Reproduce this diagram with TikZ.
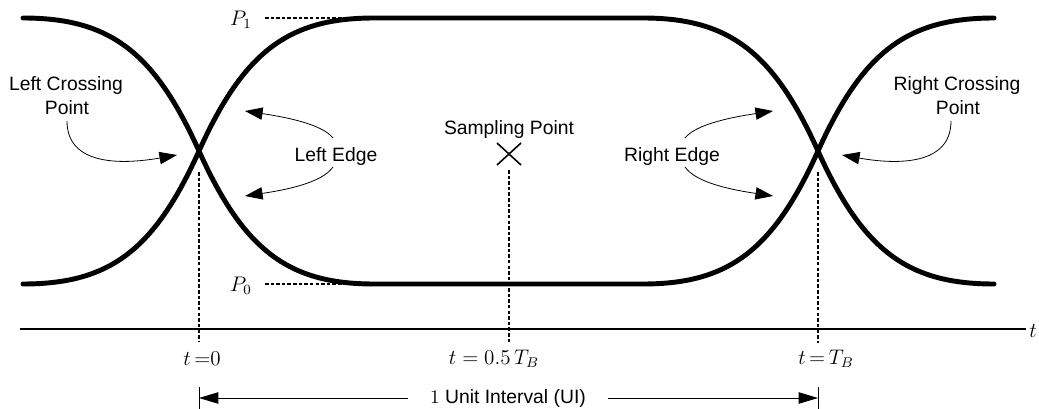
\documentclass[tikz,border=0pt]{standalone}
\usepackage{fontspec}
\setmainfont{Liberation Sans}
\usetikzlibrary{arrows.meta}
\tikzset{
  eye/.style={line width=2.8pt, line cap=round},
  guide/.style={line width=0.9pt, dash pattern=on 2pt off 1.2pt},
  axisline/.style={line width=1.1pt},
  callout/.style={line width=0.45pt, -{Triangle[length=10pt,width=7pt]}},
  uiarrow/.style={line width=0.5pt, -{Triangle[length=11pt,width=6.5pt]}},
  lbl/.style={font=\fontsize{11}{13}\selectfont, inner sep=0pt},
  mlbl/.style={font=\fontsize{11.5}{13}\selectfont, inner sep=0pt}
}
\begin{document}
\begin{tikzpicture}[x=0.02cm,y=-0.02cm]
\useasboundingbox (0,0) rectangle (1039,409);
% key points
\coordinate (TL) at (23,18);
\coordinate (BL) at (23,284);
\coordinate (XL) at (199,151);
\coordinate (TR) at (994,18);
\coordinate (BR) at (994,284);
\coordinate (XR) at (818,151);
\coordinate (T1) at (374,18);
\coordinate (T2) at (643,18);
\coordinate (B1) at (374,284);
\coordinate (B2) at (643,284);
% eye traces
\draw[eye] (TL) .. controls (109,18) and (154,51) .. (XL)
  .. controls (244,251) and (289,284) .. (B1) -- (B2)
  .. controls (728,284) and (773,251) .. (XR)
  .. controls (863,51) and (908,18) .. (TR);
\draw[eye] (BL) .. controls (109,284) and (154,251) .. (XL)
  .. controls (244,51) and (289,18) .. (T1) -- (T2)
  .. controls (728,18) and (773,51) .. (XR)
  .. controls (863,251) and (908,284) .. (BR);
% levels
\node[mlbl] (p1) at (241,20) {$P_1$};
\node[mlbl] (p0) at (241,286) {$P_0$};
\coordinate (p1s) at (265,18);
\coordinate (p0s) at (265,284);
\coordinate (p1e) at (345,18);
\coordinate (p0e) at (345,284);
\draw[guide] (p1s) -- (p1e);
\draw[guide] (p0s) -- (p0e);
% time axis
\coordinate (A0) at (20,329);
\coordinate (A1) at (1026,329);
\draw[axisline] (A0) -- (A1);
\node[mlbl, anchor=west] (tax) at (1029,331) {$t$};
% vertical guides
\coordinate (vl0) at (199,172);
\coordinate (vl1) at (199,342);
\coordinate (vm0) at (509,170);
\coordinate (vm1) at (509,343);
\coordinate (vr0) at (818,172);
\coordinate (vr1) at (818,343);
\draw[guide] (vl0) -- (vl1);
\draw[guide] (vm0) -- (vm1);
\draw[guide] (vr0) -- (vr1);
% time labels
\node[mlbl] (t0) at (202,359) {$t\,{=}0$};
\node[mlbl] (th) at (494,359) {$t = 0.5\,T_B$};
\node[mlbl] (tb) at (826,359) {$t\,{=}\,T_B$};
% sampling point
\node[lbl] (sp) at (509,130) {Sampling Point};
\coordinate (sx) at (509,154);
\draw[line width=0.9pt] ([shift={(-12,-11)}]sx) -- ([shift={(12,11)}]sx);
\draw[line width=0.9pt] ([shift={(-12,11)}]sx) -- ([shift={(12,-11)}]sx);
% left crossing
\node[lbl] (lc1) at (66,86) {Left Crossing};
\node[lbl] (lc2) at (67,108) {Point};
\coordinate (lcs) at (67,121);
\coordinate (lce) at (177,155);
\draw[callout] (lcs) .. controls (67,165) and (120,165) .. (lce);
% right crossing
\node[lbl] (rc1) at (957,86) {Right Crossing};
\node[lbl] (rc2) at (958,108) {Point};
\coordinate (rcs) at (951,121);
\coordinate (rce) at (842,155);
\draw[callout] (rcs) .. controls (951,165) and (898,165) .. (rce);
% left edge
\node[lbl] (le) at (336,157) {Left Edge};
\coordinate (les1) at (333,138);
\coordinate (lee1) at (245,111);
\coordinate (les2) at (333,167);
\coordinate (lee2) at (245,196);
\draw[callout] (les1) .. controls (322,124) and (285,117) .. (lee1);
\draw[callout] (les2) .. controls (322,183) and (285,190) .. (lee2);
% right edge
\node[lbl] (re) at (672,157) {Right Edge};
\coordinate (res1) at (685,138);
\coordinate (ree1) at (773,111);
\coordinate (res2) at (685,167);
\coordinate (ree2) at (773,196);
\draw[callout] (res1) .. controls (696,124) and (733,117) .. (ree1);
\draw[callout] (res2) .. controls (696,183) and (733,190) .. (ree2);
% unit interval
\node[lbl] (ui) at (508,398) {$1$ Unit Interval (UI)};
\coordinate (uil) at (199,398);
\coordinate (uir) at (818,398);
\coordinate (uil0) at (408,398);
\coordinate (uir0) at (608,398);
\draw[line width=0.5pt] (199,387) -- (199,409);
\draw[line width=0.5pt] (818,387) -- (818,409);
\draw[uiarrow] (uil0) -- (uil);
\draw[uiarrow] (uir0) -- (uir);
\end{tikzpicture}
\end{document}
